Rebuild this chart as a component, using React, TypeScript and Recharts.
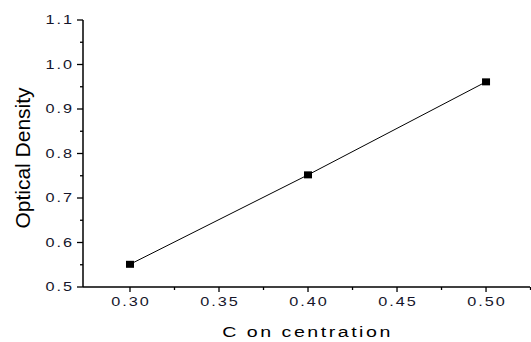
import React from "react";
import { LineChart, Line, XAxis, YAxis } from "recharts";

const concentration = [0.3, 0.4, 0.5];
const opticalDensity = [0.551, 0.752, 0.961];

const xMajorTicks = [0.3, 0.35, 0.4, 0.45, 0.5];
const xMinorTicks = [0.325, 0.375, 0.425, 0.475, 0.525];
const yMajorTicks = [0.5, 0.6, 0.7, 0.8, 0.9, 1.0, 1.1];
const yMinorTicks = [0.55, 0.65, 0.75, 0.85, 0.95, 1.05];

const xDomain: [number, number] = [0.2736, 0.5247];
const yDomain: [number, number] = [0.5, 1.1];

const data = concentration.map((c, i) => ({ c, od: opticalDensity[i] }));

const isIn = (v: number, arr: number[]) => arr.some((a) => Math.abs(a - v) < 1e-9);

const FONT = "Arial, 'Liberation Sans', sans-serif";
const TEXT = "#15152a";
const SX = 1.3;

const YTick = (props: any) => {
  const { x, y, payload } = props;
  const v = payload.value as number;
  const major = isIn(v, yMajorTicks);
  return (
    <g>
      <line x1={x - (major ? 6 : 3)} y1={y} x2={x} y2={y} stroke="#000" strokeWidth={1.3} />
      {major && (
        <g transform={`translate(${x - 9}, ${y}) scale(${SX}, 1)`}>
          <text
            x={0}
            y={0}
            textAnchor="end"
            dominantBaseline="central"
            fontFamily={FONT}
            fontSize={12.5}
            letterSpacing={1.5}
            fill={TEXT}
          >
            {v.toFixed(1)}
          </text>
        </g>
      )}
    </g>
  );
};

const XTick = (props: any) => {
  const { x, y, payload } = props;
  const v = payload.value as number;
  const major = isIn(v, xMajorTicks);
  return (
    <g>
      <line x1={x} y1={y} x2={x} y2={y + (major ? 5 : 3)} stroke="#000" strokeWidth={1.3} />
      {major && (
        <g transform={`translate(${x + 1}, ${y + 15}) scale(${SX}, 1)`}>
          <text
            x={0}
            y={0}
            textAnchor="middle"
            dominantBaseline="central"
            fontFamily={FONT}
            fontSize={12.5}
            letterSpacing={1.5}
            fill={TEXT}
          >
            {v.toFixed(2)}
          </text>
        </g>
      )}
    </g>
  );
};

const SquareDot = (props: any) => {
  const { cx, cy } = props;
  if (cx == null || cy == null) return null;
  return <rect x={cx - 4} y={cy - 3.5} width={8} height={7} fill="#000" />;
};

const XTitle = (props: any) => {
  const vb = props.viewBox || {};
  const cx = vb.x + vb.width / 2;
  return (
    <g transform={`translate(${cx + 1}, ${vb.y + 45}) scale(1.4, 1)`}>
      <text
        x={0}
        y={0}
        textAnchor="middle"
        dominantBaseline="central"
        fontFamily={FONT}
        fontSize={14}
        letterSpacing={1.8}
        fill="#000"
      >
        C on centration
      </text>
    </g>
  );
};

const YTitle = (props: any) => {
  const vb = props.viewBox || {};
  const cy = vb.y + vb.height / 2 + 4.5;
  const cx = vb.x + 22.5;
  return (
    <text
      x={cx}
      y={cy}
      transform={`rotate(-90, ${cx}, ${cy})`}
      textAnchor="middle"
      dominantBaseline="central"
      fontFamily={FONT}
      fontSize={21}
      fill="#000"
    >
      Optical Density
    </text>
  );
};

export default function App() {
  return (
    <div style={{ position: "absolute", left: 0, top: 0, background: "#fff" }}>
      <LineChart
        width={531}
        height={342}
        data={data}
        margin={{ top: 20, right: 1, bottom: 0, left: 0 }}
      >
        <XAxis
          dataKey="c"
          type="number"
          domain={xDomain}
          allowDataOverflow
          ticks={[...xMajorTicks, ...xMinorTicks].sort((a, b) => a - b)}
          interval={0}
          height={55}
          tickSize={0}
          tickMargin={0}
          tickLine={false}
          axisLine={{ stroke: "#000", strokeWidth: 1.5 }}
          tick={<XTick />}
          label={<XTitle />}
        />
        <YAxis
          type="number"
          domain={yDomain}
          allowDataOverflow
          ticks={[...yMajorTicks, ...yMinorTicks].sort((a, b) => a - b)}
          interval={0}
          width={83}
          tickSize={0}
          tickMargin={0}
          tickLine={false}
          axisLine={{ stroke: "#000", strokeWidth: 1.5 }}
          tick={<YTick />}
          label={<YTitle />}
        />
        <Line
          dataKey="od"
          stroke="#000"
          strokeWidth={1}
          dot={<SquareDot />}
          isAnimationActive={false}
        />
      </LineChart>
    </div>
  );
}
